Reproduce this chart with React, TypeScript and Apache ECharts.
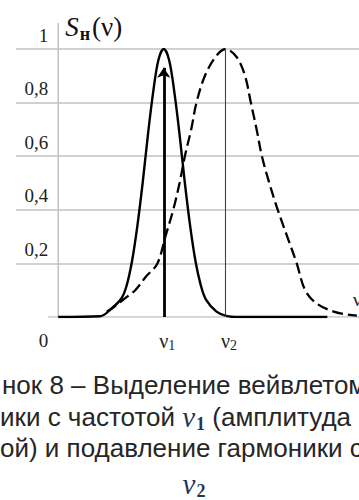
import React, { useEffect, useRef } from 'react';
import * as echarts from 'echarts';

const yTickValues = [0, 0.2, 0.4, 0.6, 0.8, 1];
const yTickLabels = ['0', '0,2', '0,4', '0,6', '0,8', '1'];
const nuPositions = [10, 15.85];
const nuSubscripts = ['1', '2'];

const solidX = [0, 4, 5, 6, 6.5, 7, 7.5, 8, 8.5, 9, 9.5, 10, 10.5, 11, 11.5, 12, 12.5, 13, 13.5, 14, 15, 16, 17, 25.5];
const solidY = [0, 0.003, 0.03, 0.07, 0.12, 0.21, 0.34, 0.5, 0.68, 0.84, 0.96, 1, 0.96, 0.84, 0.68, 0.5, 0.34, 0.21, 0.12, 0.065, 0.02, 0.003, 0, 0];

const dashX = [4.6, 5.0, 5.7, 6.5, 7.3, 8.3, 9.4, 10.15, 10.9, 11.5, 12.0, 12.6, 13.1, 13.9, 14.9, 15.85, 16.9, 17.7, 18.25, 18.8, 19.3, 20.0, 20.8, 21.7, 22.6, 23.4, 24.5, 26.1, 27.3, 28.3];
const dashY = [0.02, 0.03, 0.05, 0.075, 0.1, 0.15, 0.2, 0.3, 0.4, 0.5, 0.6, 0.7, 0.8, 0.9, 0.97, 1.0, 0.97, 0.9, 0.8, 0.7, 0.6, 0.5, 0.4, 0.3, 0.2, 0.1, 0.05, 0.02, 0.01, 0.005];

const captionLines = ['нок 8 – Выделение вейвлетом', 'ики с частотой ', 'ой) и подавление гармоники с'];

const GRAY = '#c2c2c2';
const SERIF = '"Liberation Serif", "Times New Roman", serif';
const SANS = '"Liberation Sans", Arial, sans-serif';

export default function App() {
  const ref = useRef<HTMLDivElement>(null);
  useEffect(() => {
    if (!ref.current) return;
    const chart = echarts.init(ref.current, undefined, { renderer: 'svg' });
    const zip = (xs: number[], ys: number[]) => xs.map((x, i) => [x, ys[i]]);
    const mathNu = { fontFamily: SERIF, fontStyle: 'italic', fontSize: 29, fill: '#1f3559' } as any;
    const mathSub = { fontFamily: SERIF, fontWeight: 'bold', fontSize: 18, fill: '#1f3559', padding: [13, 0, 0, 1] } as any;
    const cap = { fontFamily: SANS, fontSize: 26, fill: '#262626', verticalAlign: 'middle' } as any;
    chart.setOption({
      animation: false,
      grid: { left: 16, right: 0, top: 49, bottom: 183, containLabel: false, outerBoundsMode: 'none' },
      xAxis: {
        type: 'value',
        min: -4,
        max: 28.5,
        axisLine: { show: false, onZero: false },
        axisTick: { show: false },
        splitLine: { show: false },
        axisLabel: {
          customValues: nuPositions,
          margin: 12,
          formatter: (v: number) => {
            let idx = 0;
            nuPositions.forEach((p, i) => { if (Math.abs(p - v) < Math.abs(nuPositions[idx] - v)) idx = i; });
            return '{p| }{v|ν}{s|' + nuSubscripts[idx] + '}';
          },
          rich: {
            p: { width: 7, fontSize: 12 },
            v: { fontFamily: SERIF, fontSize: 20, color: '#222' },
            s: { fontFamily: SERIF, fontSize: 14, color: '#222', padding: [9, 0, 0, 0], width: 7 },
          },
        },
        name: 'ν',
        nameLocation: 'end',
        nameGap: -6,
        nameTextStyle: { fontFamily: SERIF, fontSize: 19, color: '#222', align: 'left', verticalAlign: 'bottom', padding: [0, 0, 8, 0] },
      },
      yAxis: {
        type: 'value',
        min: 0,
        max: 1,
        interval: 0.2,
        offset: -42.2,
        axisLine: { show: false, onZero: false },
        axisTick: { show: false },
        splitLine: { show: true, showMinLine: false, lineStyle: { color: GRAY, width: 1.5 } },
        axisLabel: {
          margin: 10,
          formatter: (v: number) => {
            const i = yTickValues.findIndex((t) => Math.abs(t - v) < 1e-6);
            if (i < 0) return '';
            return i === 0 ? '{z|' + yTickLabels[i] + '}' : '{a|' + yTickLabels[i] + '}';
          },
          rich: {
            a: { fontFamily: SERIF, fontSize: 19, color: '#222', padding: [0, 0, 28, 0] },
            z: { fontFamily: SERIF, fontSize: 19, color: '#222', padding: [46, 0, 0, 0] },
          },
        },
        name: '{s|S}{h|н}{p|(ν)}',
        nameLocation: 'end',
        nameGap: 22,
        nameTextStyle: {
          align: 'left',
          verticalAlign: 'middle',
          padding: [0, 0, 0, 7],
          rich: {
            s: { fontFamily: SERIF, fontStyle: 'italic', fontSize: 27, color: '#111' },
            h: { fontFamily: SERIF, fontWeight: 'bold', fontSize: 18, color: '#111', padding: [14, 2, 0, 1] },
            p: { fontFamily: SERIF, fontSize: 27, color: '#111' },
          },
        },
      },
      series: [
        {
          type: 'line',
          data: [[-0.95, 0], [28.5, 0]],
          symbol: 'none',
          silent: true,
          lineStyle: { color: GRAY, width: 1.5 },
          z: 1,
        },
        {
          type: 'line',
          data: zip(solidX, solidY),
          symbol: 'none',
          smooth: 0.35,
          silent: true,
          lineStyle: { color: '#000', width: 2.4 },
          z: 3,
          markLine: {
            silent: true,
            symbol: ['none', 'arrow'],
            symbolSize: 10,
            label: { show: false },
            lineStyle: { color: '#000', width: 2.8, type: 'solid' },
            data: [[{ coord: [nuPositions[0], 0] }, { coord: [nuPositions[0], 0.93] }]],
          },
        },
        {
          type: 'line',
          data: zip(dashX, dashY),
          symbol: 'none',
          smooth: 0.35,
          silent: true,
          lineStyle: { color: '#000', width: 2.3, type: [11, 5] },
          z: 3,
          markLine: {
            silent: true,
            symbol: ['none', 'none'],
            label: { show: false },
            lineStyle: { color: '#444', width: 1.1, type: 'solid' },
            data: [[{ coord: [nuPositions[1], 0] }, { coord: [nuPositions[1], 1] }]],
          },
        },
      ],
      graphic: [
        { type: 'rect', shape: { x: 57.5, y: 23, width: 1.5, height: 294 }, style: { fill: GRAY }, z: 1 },
        { type: 'text', x: 2, y: 385, style: { ...cap, text: captionLines[0] } },
        {
          type: 'text', x: 0, y: 417,
          style: {
            ...cap,
            text: captionLines[1] + '{m|ν}{ms|1}{t| (амплитуда}',
            rich: { m: mathNu, ms: mathSub, t: { fontFamily: SANS, fontSize: 26, fill: '#262626' } },
          },
        },
        { type: 'text', x: 0, y: 448, style: { ...cap, text: captionLines[2] } },
        {
          type: 'text', x: 194, y: 484,
          style: { text: '{m|ν}{ms|2}', align: 'center', verticalAlign: 'middle', rich: { m: mathNu, ms: mathSub } },
        },
      ],
    });
    return () => chart.dispose();
  }, []);
  return <div ref={ref} style={{ position: 'absolute', left: 0, top: 0, width: 359, height: 500 }} />;
}
